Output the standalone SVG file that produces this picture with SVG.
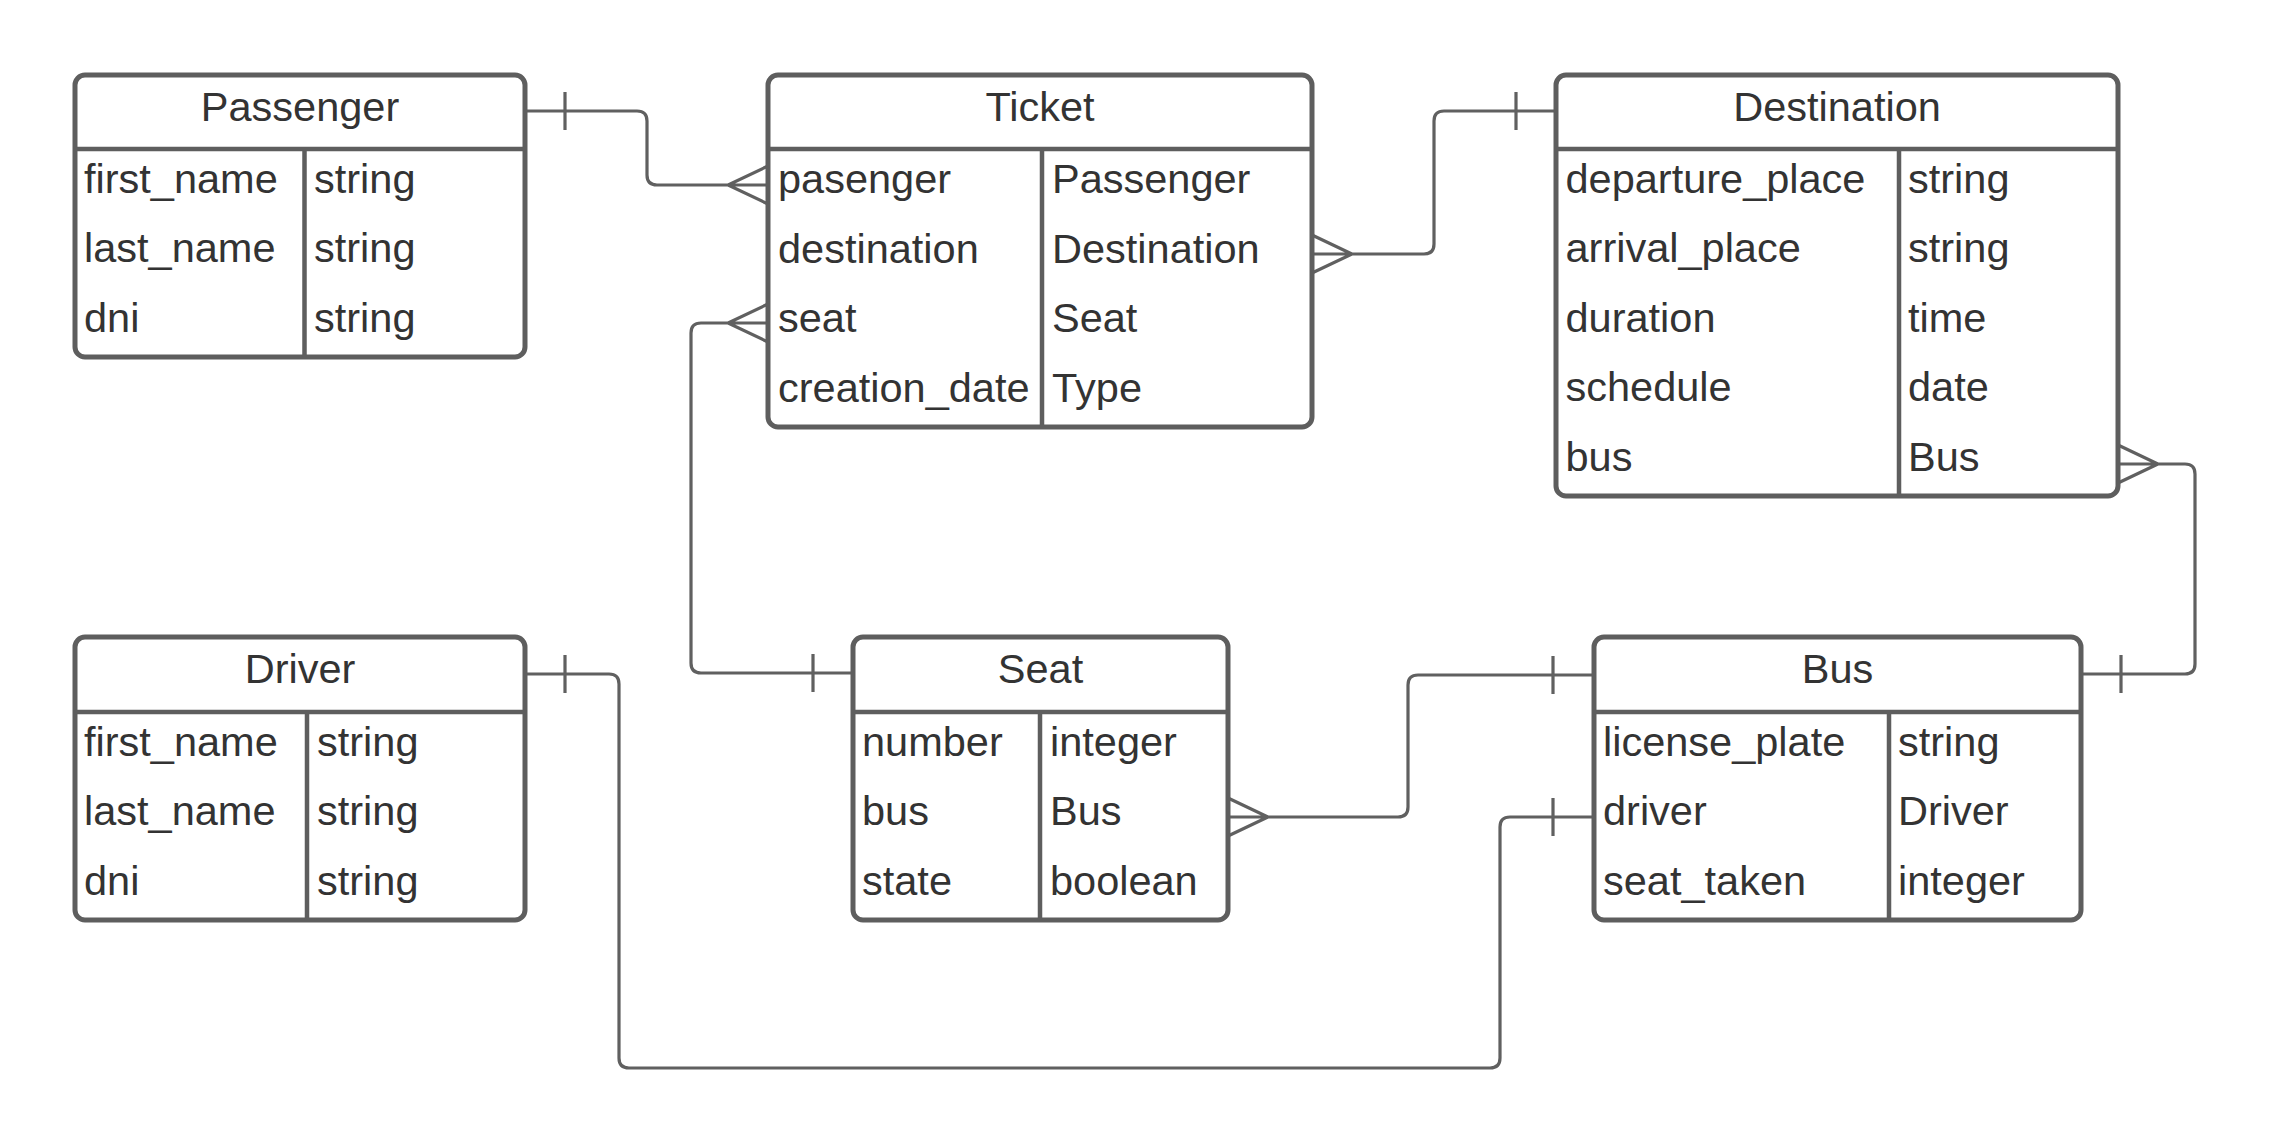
<svg xmlns="http://www.w3.org/2000/svg" width="2273" height="1144" viewBox="0 0 2273 1144">
<style>
.box{fill:#ffffff;stroke:#5e5e5e;stroke-width:5}
.div{stroke:#5e5e5e;stroke-width:4.5;fill:none}
.t{font-family:"Liberation Sans",Arial,sans-serif;font-size:41.5px;fill:#333333}
.h{text-anchor:middle}
.c{fill:none;stroke:#606060;stroke-width:3.2}
</style>
<rect width="2273" height="1144" fill="#ffffff"/>
<g id="connectors">
<path class="c" d="M525,111 H637 Q647,111 647,121 V175 Q647,185 657,185 H768 M565,92 V130 M768,166 L728,185 L768,204"/>
<path class="c" d="M768,323 H701 Q691,323 691,333 V663 Q691,673 701,673 H853 M768,304 L728,323 L768,342 M813,654 V692"/>
<path class="c" d="M1312,254 H1424 Q1434,254 1434,244 V121 Q1434,111 1444,111 H1556 M1312,235 L1352,254 L1312,273 M1516,92 V130"/>
<path class="c" d="M2118,464 H2185 Q2195,464 2195,474 V664 Q2195,674 2185,674 H2081 M2118,445 L2158,464 L2118,483 M2121,655 V693"/>
<path class="c" d="M1228,817 H1398 Q1408,817 1408,807 V685 Q1408,675 1418,675 H1594 M1228,798 L1268,817 L1228,836 M1553,656 V694"/>
<path class="c" d="M525,674 H609 Q619,674 619,684 V1058 Q619,1068 629,1068 H1490 Q1500,1068 1500,1058 V827 Q1500,817 1510,817 H1594 M565,655 V693 M1553,798 V836"/>
</g>
<g id="passenger">
<rect class="box" x="75" y="75" width="450" height="282" rx="10"/>
<path class="div" d="M75,149 H525 M304.5,149 V357"/>
<text class="t h" x="300" y="121">Passenger</text>
<text class="t" x="84" y="193">first_name</text><text class="t" x="314" y="193">string</text>
<text class="t" x="84" y="262.4">last_name</text><text class="t" x="314" y="262.4">string</text>
<text class="t" x="84" y="331.8">dni</text><text class="t" x="314" y="331.8">string</text>
</g>
<g id="ticket">
<rect class="box" x="768" y="75" width="544" height="352" rx="10"/>
<path class="div" d="M768,149 H1312 M1042,149 V427"/>
<text class="t h" x="1040" y="121">Ticket</text>
<text class="t" x="778" y="193">pasenger</text><text class="t" x="1052" y="193">Passenger</text>
<text class="t" x="778" y="262.5">destination</text><text class="t" x="1052" y="262.5">Destination</text>
<text class="t" x="778" y="332">seat</text><text class="t" x="1052" y="332">Seat</text>
<text class="t" x="778" y="401.5">creation_date</text><text class="t" x="1052" y="401.5">Type</text>
</g>
<g id="destination">
<rect class="box" x="1556" y="75" width="562" height="421" rx="10"/>
<path class="div" d="M1556,149 H2118 M1899,149 V496"/>
<text class="t h" x="1837" y="121">Destination</text>
<text class="t" x="1565.5" y="193">departure_place</text><text class="t" x="1908" y="193">string</text>
<text class="t" x="1565.5" y="262.4">arrival_place</text><text class="t" x="1908" y="262.4">string</text>
<text class="t" x="1565.5" y="331.8">duration</text><text class="t" x="1908" y="331.8">time</text>
<text class="t" x="1565.5" y="401.2">schedule</text><text class="t" x="1908" y="401.2">date</text>
<text class="t" x="1565.5" y="470.6">bus</text><text class="t" x="1908" y="470.6">Bus</text>
</g>
<g id="driver">
<rect class="box" x="75" y="637" width="450" height="283" rx="10"/>
<path class="div" d="M75,712 H525 M307,712 V920"/>
<text class="t h" x="300" y="683">Driver</text>
<text class="t" x="84" y="756">first_name</text><text class="t" x="317" y="756">string</text>
<text class="t" x="84" y="825.4">last_name</text><text class="t" x="317" y="825.4">string</text>
<text class="t" x="84" y="894.8">dni</text><text class="t" x="317" y="894.8">string</text>
</g>
<g id="seat">
<rect class="box" x="853" y="637" width="375" height="283" rx="10"/>
<path class="div" d="M853,712 H1228 M1040,712 V920"/>
<text class="t h" x="1040.5" y="683">Seat</text>
<text class="t" x="862" y="756">number</text><text class="t" x="1050" y="756">integer</text>
<text class="t" x="862" y="825.4">bus</text><text class="t" x="1050" y="825.4">Bus</text>
<text class="t" x="862" y="894.8">state</text><text class="t" x="1050" y="894.8">boolean</text>
</g>
<g id="bus">
<rect class="box" x="1594" y="637" width="487" height="283" rx="10"/>
<path class="div" d="M1594,712 H2081 M1889,712 V920"/>
<text class="t h" x="1837.5" y="683">Bus</text>
<text class="t" x="1603" y="756">license_plate</text><text class="t" x="1898" y="756">string</text>
<text class="t" x="1603" y="825.4">driver</text><text class="t" x="1898" y="825.4">Driver</text>
<text class="t" x="1603" y="894.8">seat_taken</text><text class="t" x="1898" y="894.8">integer</text>
</g>
</svg>
